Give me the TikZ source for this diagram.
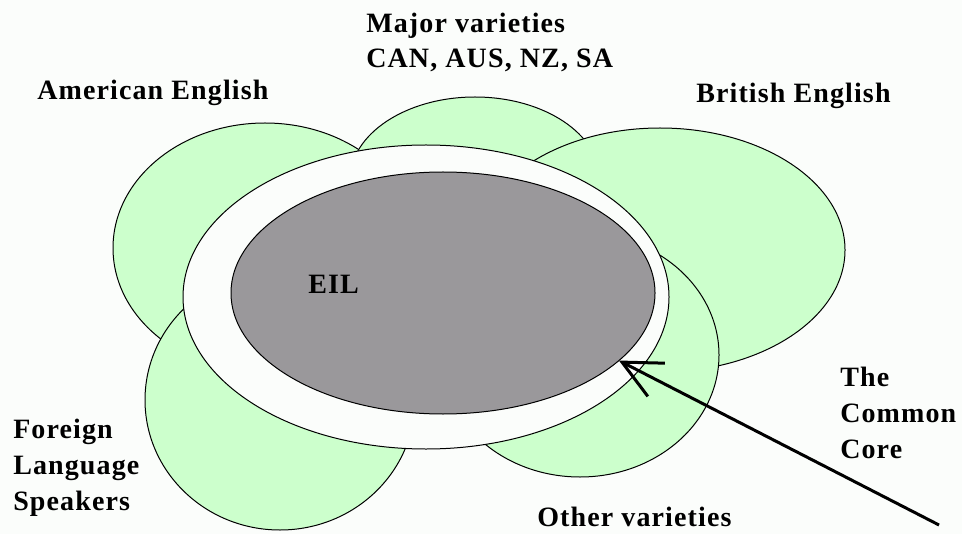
\documentclass[tikz,border=0pt]{standalone}
\usepackage{fontspec}
\setmainfont{Liberation Serif}[LetterSpace=4]
\usetikzlibrary{shapes.geometric,arrows.meta}
\definecolor{bgc}{RGB}{251,253,251}
\definecolor{grn}{RGB}{204,255,204}
\definecolor{gry}{RGB}{154,152,155}
\begin{document}
\begin{tikzpicture}[x=0.75pt,y=-0.75pt,
  outline/.style={ellipse, draw=black, line width=0.75pt, inner sep=0pt, outer sep=0pt},
  blob/.style={outline, fill=grn},
  lbl/.style={anchor=base west, inner sep=0pt, font=\fontsize{21}{27}\selectfont\bfseries}]
\fill[bgc] (0,0) rectangle (962,534);
\useasboundingbox (0,0) rectangle (962,534);
% green varieties
\node[blob, minimum width=304*0.75pt, minimum height=250*0.75pt] (amer) at (265,248) {};
\node[blob, minimum width=250*0.75pt, minimum height=166*0.75pt] (major) at (475,180) {};
\node[blob, minimum width=370*0.75pt, minimum height=244*0.75pt] (brit) at (660,250) {};
\node[blob, minimum width=278*0.75pt, minimum height=244*0.75pt] (other) at (580,355) {};
\node[blob, minimum width=270*0.75pt, minimum height=260*0.75pt] (foreign) at (280,400) {};
% common core and EIL
\node[outline, fill=bgc, minimum width=486*0.75pt, minimum height=304*0.75pt] (core) at (426,297) {};
\node[outline, fill=gry, minimum width=424*0.75pt, minimum height=242*0.75pt] (eil) at (443,293) {};
% labels
\node[lbl] (amlbl) at (37,100) {American English};
\node[lbl] (maj1) at (366,33) {Major varieties};
\node[lbl] (maj2) at (366,68) {CAN, AUS, NZ, SA};
\node[lbl] (brlbl) at (696,103) {British English};
\node[lbl] (eillbl) at (308,293) {EIL};
\node[lbl] (fl1) at (13,438) {Foreign};
\node[lbl] (fl2) at (13,474) {Language};
\node[lbl] (fl3) at (13,510) {Speakers};
\node[lbl] (cc1) at (840,386) {The};
\node[lbl] (cc2) at (840,422) {Common};
\node[lbl] (cc3) at (840,458) {Core};
\node[lbl] (oth) at (537,526) {Other varieties};
% arrow
\coordinate (tail) at (939,525);
\draw[line width=2.25pt, -{Straight Barb[length=29pt,width=28pt]}] (tail) -- (eil.-21.8);
\end{tikzpicture}
\end{document}
